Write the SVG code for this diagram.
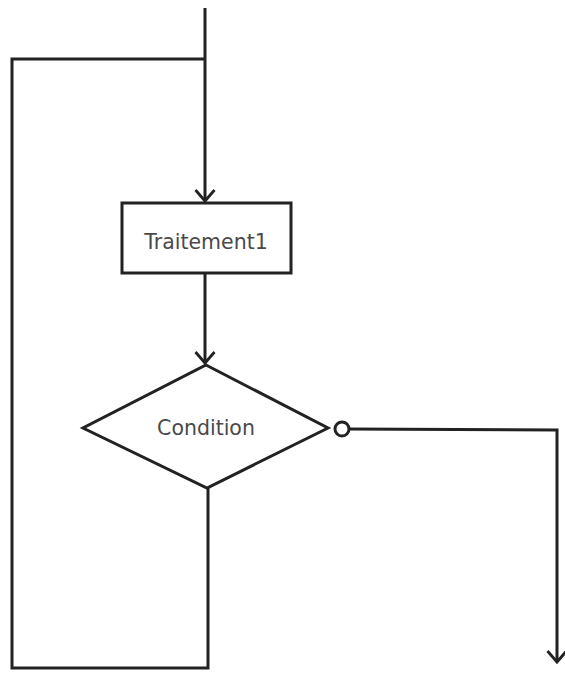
<svg xmlns="http://www.w3.org/2000/svg" width="565" height="675" viewBox="0 0 565 675">
<defs>
<marker id="arr" markerWidth="24" markerHeight="24" refX="12" refY="12" orient="auto" markerUnits="userSpaceOnUse" viewBox="0 0 24 24">
<path d="M1,2.5 L12,12 L1,21.5" fill="none" stroke="#222" stroke-width="2.8"/>
</marker>
<style>
.ln{fill:none;stroke:#222;stroke-width:3;stroke-linejoin:miter}
.shape{fill:#fff;stroke:#222;stroke-width:3}
.lbl{font-family:"DejaVu Sans",Verdana,sans-serif;font-size:20.5px;fill:#4a4a4a;text-anchor:middle;dominant-baseline:central}
</style>
</defs>
<rect width="565" height="675" fill="#fff"/>
<g id="connectors">
<path class="ln" d="M205,8 L205,201" marker-end="url(#arr)"/>
<path class="ln" d="M205,59 L12,59 L12,668 L208,668 L208,488"/>
<path class="ln" d="M205,273 L205,363" marker-end="url(#arr)"/>
<path class="ln" d="M349,429 L557,430 L557,662" marker-end="url(#arr)"/>
</g>
<g id="traitement1">
<rect class="shape" x="122" y="203" width="169" height="70"/>
<text class="lbl" x="206" y="242">Traitement1</text>
</g>
<g id="condition">
<polygon class="shape" points="206,365 328,428 207,488 83,428"/>
<text class="lbl" x="206" y="428">Condition</text>
<circle class="shape" cx="342" cy="429" r="7"/>
</g>
</svg>
